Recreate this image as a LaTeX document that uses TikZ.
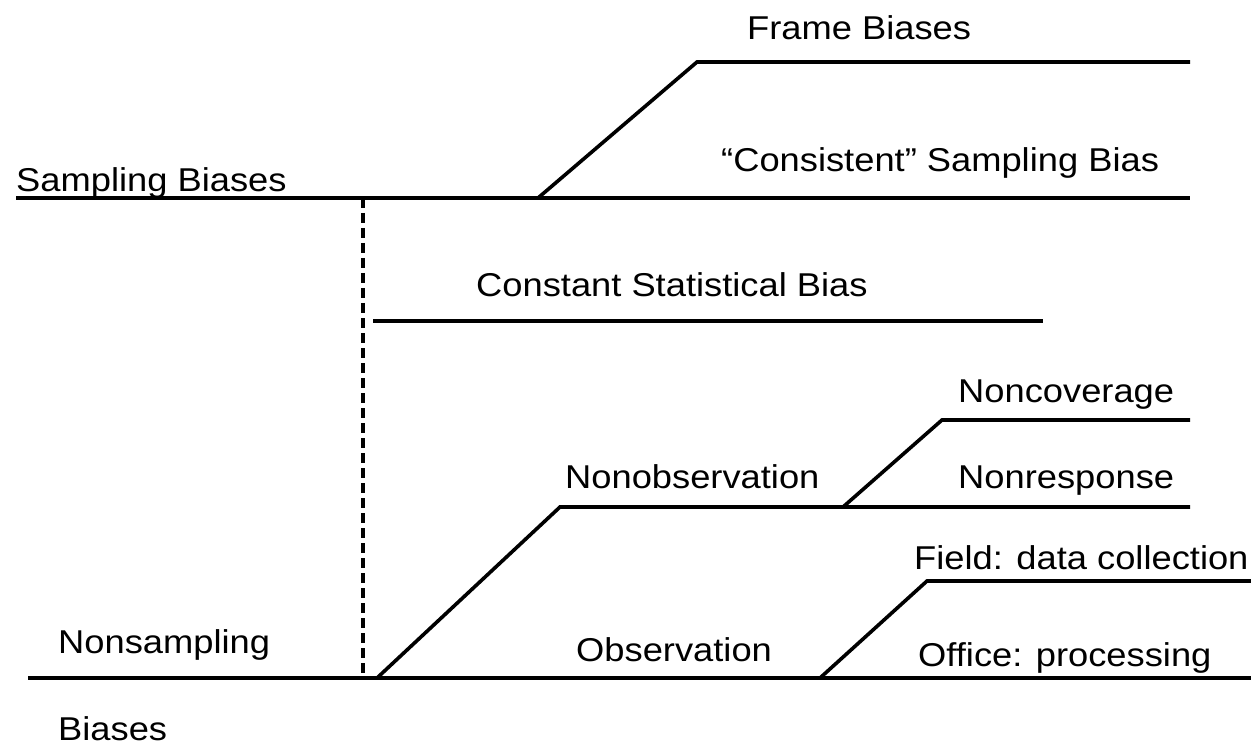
\documentclass[tikz,border=0pt]{standalone}
\usepackage{fontspec}
\setmainfont{Liberation Sans}[FakeStretch=1.1]
\usetikzlibrary{positioning}

\begin{document}
\begin{tikzpicture}[
    x=1pt,y=-1pt,
    lbl/.style={anchor=base west,inner sep=0pt,text=black,
      font=\fontsize{33}{40}\selectfont},
    branch/.style={draw=black,line width=3.6pt},
    divider/.style={draw=black,line width=3.4pt,dash pattern=on 10pt off 5pt}
  ]
    \useasboundingbox (0,0) rectangle (1251,746);
    % split points of the tree
    \coordinate (sl) at (16,198);
    \coordinate (sr) at (1190,198);
    \coordinate (fb) at (538,198);
    \coordinate (ft) at (697,62);
    \coordinate (fr) at (1190,62);
    \coordinate (dt) at (363,198);
    \coordinate (db) at (363,678);
    \coordinate (cl) at (373,321);
    \coordinate (cr) at (1043,321);
    \coordinate (nl) at (28,678);
    \coordinate (nr) at (1251,678);
    \coordinate (ob) at (377,678);
    \coordinate (ot) at (560,507);
    \coordinate (or) at (1190,507);
    \coordinate (vb) at (843,507);
    \coordinate (vt) at (942,420);
    \coordinate (vr) at (1190,420);
    \coordinate (pb) at (820,678);
    \coordinate (pt) at (927,581);
    \coordinate (pr) at (1251,581);
    % labels
    \node[lbl] (samp) at (16,192) {Sampling Biases};
    \node[lbl] (frame) at (747,40) {Frame Biases};
    \node[lbl] (cons) at (721,172) {“Consistent” Sampling Bias};
    \node[lbl] (const) at (476,297) {Constant Statistical Bias};
    \node[lbl] (cover) at (958,402) {Noncoverage};
    \node[lbl] (nonobs) at (565,488) {Nonobservation};
    \node[lbl] (resp) at (958,488) {Nonresponse};
    \node[lbl] (field) at (914,569) {Field: data collection};
    \node[lbl] (nonsamp) at (58,653) {Nonsampling};
    \node[lbl] (obs) at (576,661) {Observation};
    \node[lbl] (office) at (918,666) {Office: processing};
    \node[lbl] (bias) at (58,740) {Biases};
    % lines
    \draw[branch] (sl)--(sr);
    \draw[branch] (fb)--(ft)--(fr);
    \draw[divider] (dt)--(db);
    \draw[branch] (cl)--(cr);
    \draw[branch] (nl)--(nr);
    \draw[branch] (ob)--(ot)--(or);
    \draw[branch] (vb)--(vt)--(vr);
    \draw[branch] (pb)--(pt)--(pr);
  \end{tikzpicture}
\end{document}
